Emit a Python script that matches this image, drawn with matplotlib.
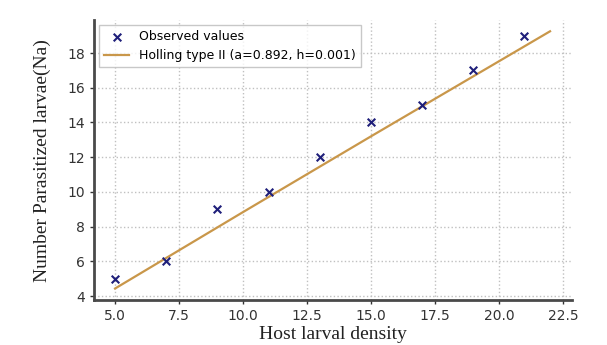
import matplotlib.pyplot as plt

# observed data
host_density = [5, 7, 9, 11, 13, 15, 17, 19, 21]
parasitized = [5, 6, 9, 10, 12, 14, 15, 17, 19]

# fitted Holling type II curve
fit_x = [5, 10, 15, 22]
fit_y = [4.44, 8.84, 13.20, 19.25]

x_ticks = [5.0, 7.5, 10.0, 12.5, 15.0, 17.5, 20.0, 22.5]
y_ticks = [4, 6, 8, 10, 12, 14, 16, 18]

fig = plt.figure(figsize=(6.07, 3.45), dpi=100)
ax = fig.add_axes([0.155, 0.13, 0.787, 0.812])

ax.scatter(host_density, parasitized, marker='x', color='#1f1f7a', s=30, linewidths=1.5,
           label='Observed values', zorder=3)
ax.plot(fit_x, fit_y, color='#c9974a', lw=1.6, label='Holling type II (a=0.892, h=0.001)')

ax.set_xticks(x_ticks)
ax.set_yticks(y_ticks)
ax.set_xlim(4.18, 22.85)
ax.set_ylim(3.77, 19.9)

ax.grid(True, linestyle=':', color='#c0c0c0', lw=1)
ax.set_axisbelow(True)
for s in ['top', 'right']:
    ax.spines[s].set_visible(False)
for s in ['left', 'bottom']:
    ax.spines[s].set_linewidth(2)
    ax.spines[s].set_color('#4a4a4a')
ax.tick_params(labelsize=10, colors='#333333', length=3, width=1)

ax.set_xlabel('Host larval density', family='Liberation Serif', fontsize=14,
              color='#222222', labelpad=2)
ax.set_ylabel('Number Parasitized larvae(Na)', family='Liberation Serif', fontsize=14,
              color='#222222', labelpad=12)

leg = ax.legend(loc='upper left', fontsize=9, frameon=True, fancybox=False,
                edgecolor='#bbbbbb', borderaxespad=0.4)

plt.savefig('out.png', dpi=100)
